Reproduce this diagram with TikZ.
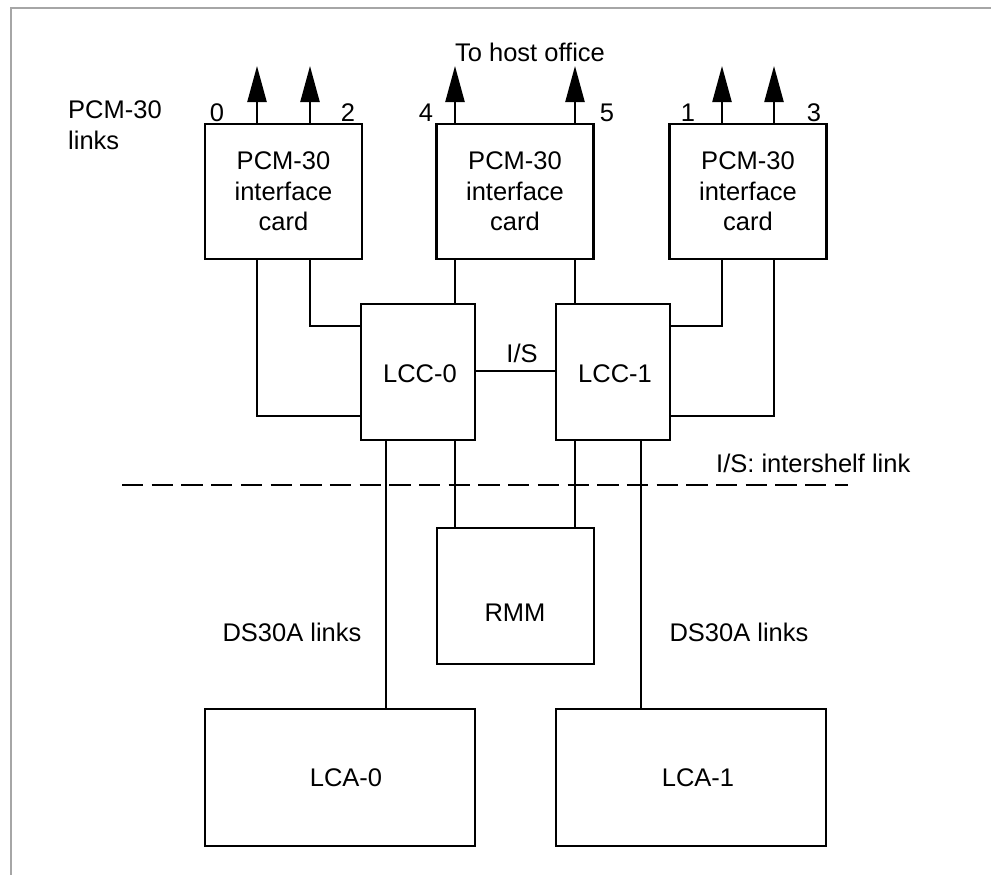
\documentclass[tikz,border=0pt]{standalone}
\usepackage{fontspec}
\setmainfont{Liberation Sans}
\usetikzlibrary{arrows.meta}
\begin{document}
\begin{tikzpicture}[x=1pt,y=-1pt,
  font=\fontsize{25.5}{30.5}\selectfont,
  box/.style={draw, line width=2.4pt, inner sep=0pt, align=center},
  lbl/.style={inner sep=0pt, text height=18.3pt, text depth=0pt},
  wire/.style={line width=2.3pt},
  arr/.style={line width=2.3pt, -{Triangle[length=36pt,width=19pt]}}]
\useasboundingbox (0,0) rectangle (991,875);
% frame
\draw[gray!70, line width=1.2pt] (991,8) -- (11,8) -- (11,875);

% interface cards
\node[box, minimum width=157pt, minimum height=135pt] (card0) at (283.5,191.5) {PCM-30\\interface\\card};
\node[box, minimum width=157pt, minimum height=135pt] (card1) at (515,191.5) {PCM-30\\interface\\card};
\node[box, minimum width=157pt, minimum height=135pt] (card2) at (748,191.5) {PCM-30\\interface\\card};

% LCCs
\node[box, minimum width=114pt, minimum height=136pt] (lcc0) at (418,372) {};
\node[lbl] at (420,373) {LCC-0};
\node[box, minimum width=114pt, minimum height=136pt] (lcc1) at (613,372) {};
\node[lbl] at (615,373) {LCC-1};

% RMM
\node[box, minimum width=157pt, minimum height=136pt] (rmm) at (515.5,596) {};
\node[lbl] at (515,612) {RMM};

% LCAs
\node[box, minimum width=270pt, minimum height=137pt] (lca0) at (340,777.5) {};
\node[lbl] at (346,777) {LCA-0};
\node[box, minimum width=270pt, minimum height=137pt] (lca1) at (691,777.5) {};
\node[lbl] at (698,777) {LCA-1};

% arrow end points
\coordinate (t0) at (257,66);
\coordinate (t2) at (310,66);
\coordinate (t4) at (455,66);
\coordinate (t5) at (575,66);
\coordinate (t1) at (722,66);
\coordinate (t3) at (774,66);

\draw[arr] (card0.north -| t0) -- (t0);
\draw[arr] (card0.north -| t2) -- (t2);
\draw[arr] (card1.north -| t4) -- (t4);
\draw[arr] (card1.north -| t5) -- (t5);
\draw[arr] (card2.north -| t1) -- (t1);
\draw[arr] (card2.north -| t3) -- (t3);

% link labels
\node[lbl] at (217,112) {0};
\node[lbl] at (348,112) {2};
\node[lbl] at (426,112) {4};
\node[lbl] at (607,112) {5};
\node[lbl] at (688,112) {1};
\node[lbl] at (814,112) {3};
\node[lbl] at (530,52) {To host office};
\node[anchor=west, align=left, inner sep=0pt] at (68,125) {PCM-30\\links};

% card to LCC connections
\draw[wire] (card0.south -| t2) |- (lcc0.west |- 0,326);
\draw[wire] (card0.south -| t0) |- (lcc0.west |- 0,416);
\draw[wire] (card1.south -| t4) -- (lcc0.north -| t4);
\draw[wire] (card1.south -| t5) -- (lcc1.north -| t5);
\draw[wire] (card2.south -| t1) |- (lcc1.east |- 0,326);
\draw[wire] (card2.south -| t3) |- (lcc1.east |- 0,416);

% intershelf link
\draw[wire] (lcc0.east |- 0,371) -- (lcc1.west |- 0,371);
\node[lbl] at (522,353) {I/S};

% dashed divider
\coordinate (dl) at (122,485);
\coordinate (dr) at (848,485);
\draw[line width=2.2pt, dash pattern=on 21.3pt off 8.4pt] (dl) -- (dr);
\node[lbl, anchor=west] at (716,463) {I/S: intershelf link};

% lower connections
\draw[wire] (lcc0.south -| 386,0) -- (lca0.north -| 386,0);
\draw[wire] (lcc0.south -| t4) -- (rmm.north -| t4);
\draw[wire] (lcc1.south -| t5) -- (rmm.north -| t5);
\draw[wire] (lcc1.south -| 641,0) -- (lca1.north -| 641,0);

\node[lbl] at (292,632) {DS30A links};
\node[lbl] at (739,632) {DS30A links};
\end{tikzpicture}
\end{document}
